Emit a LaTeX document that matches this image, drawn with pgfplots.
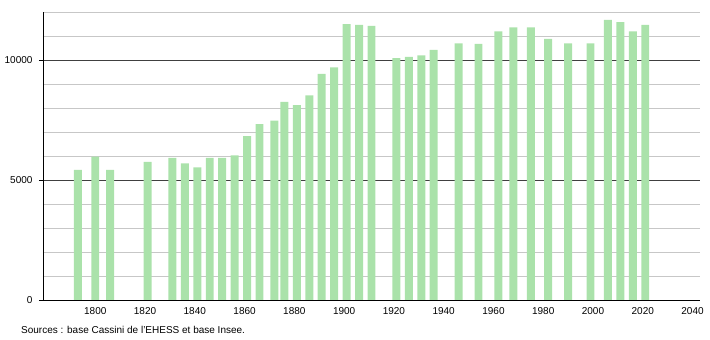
\documentclass[border=0pt]{standalone}
\usepackage{pgfplots}
\pgfplotsset{compat=1.18}
\usepackage{fontspec}
\setmainfont{Liberation Sans}
\definecolor{barg}{RGB}{170,226,170}
\begin{document}
\begin{tikzpicture}
\begin{axis}[name=ax, scale only axis, width=657pt, height=288pt,
  xmin=1779, xmax=2043, ymin=0, ymax=12000,
  axis x line*=bottom, axis y line*=left,
  axis line style={black, line width=0.8pt, -},
  xtick={1800,1820,...,2040},
  ytick={0,5000,10000},
  minor ytick={1000,2000,3000,4000,6000,7000,8000,9000,11000,12000},
  ymajorgrids, yminorgrids,
  major grid style={black!75, line width=0.8pt},
  minor grid style={black!22, line width=0.6pt},
  x tick style={draw=none},
  y tick style={black, line width=0.8pt},
  tick align=outside, major tick length=4pt, minor tick length=0pt,
  yticklabel style={xshift=-3pt},
  scaled y ticks=false,
  tick label style={font=\fontsize{10}{12}\selectfont, black},
  /pgf/number format/.cd, set thousands separator={}, assume math mode=true,
]
\addplot[ybar, bar width=3.2, fill=barg, draw=none] coordinates {
(1793,5420) (1800,5970) (1806,5420) (1821,5750) (1831,5920) (1836,5690)
(1841,5530) (1846,5920) (1851,5920) (1856,6030) (1861,6830) (1866,7330)
(1872,7470) (1876,8250) (1881,8120) (1886,8530) (1891,9420) (1896,9690)
(1901,11490) (1906,11460) (1911,11420) (1921,10080) (1926,10130) (1931,10190)
(1936,10420) (1946,10690) (1954,10670) (1962,11190) (1968,11360) (1975,11360)
(1982,10880) (1990,10690) (1999,10690) (2006,11670) (2011,11580) (2016,11190)
(2021,11460)
};
\end{axis}
\node[anchor=west, font=\fontsize{10}{12}\selectfont, inner sep=0pt] at ([xshift=-22pt,yshift=-30pt]ax.south west) {Sources : base Cassini de l'EHESS et base Insee.};
\path ([xshift=-43pt,yshift=-40pt]ax.south west) coordinate (a) ([xshift=10pt,yshift=12pt]ax.north east) coordinate (b);
\end{tikzpicture}
\end{document}
